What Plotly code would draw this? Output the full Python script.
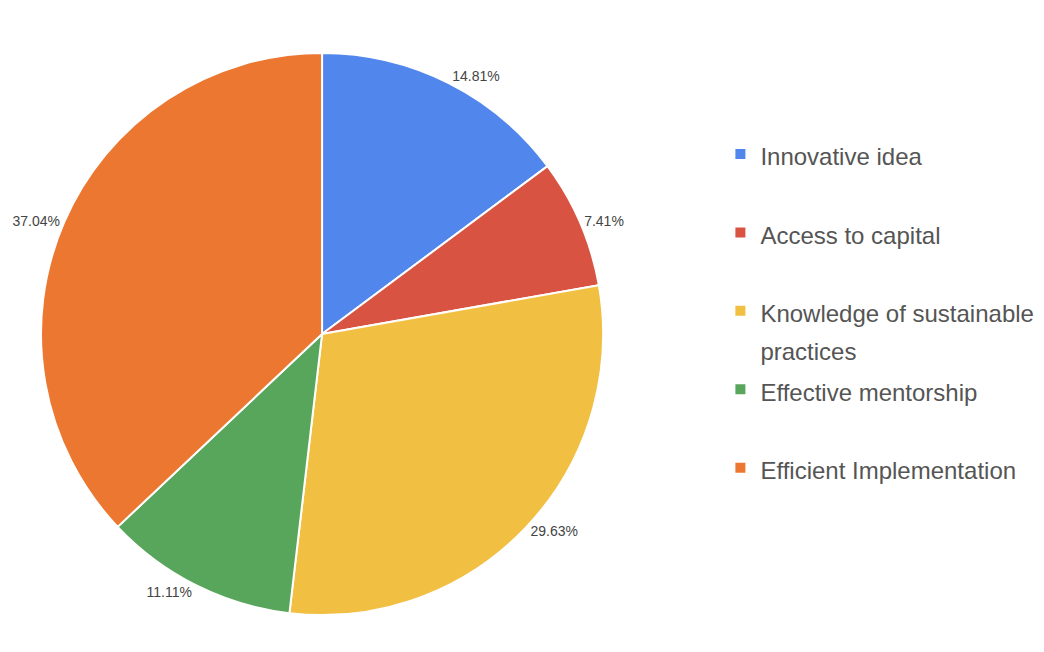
import plotly.graph_objects as go

label_text = ["Innovative idea", "Access to capital", "Knowledge of sustainable<br>practices",
              "Effective mentorship", "Efficient Implementation"]
values = [4, 2, 8, 3, 10]
colors = ["#5186EC", "#D95342", "#F1BF42", "#58A65C", "#EC7731"]

FONT = "Liberation Sans, Arial, sans-serif"

# legend entries: glyphs at 24px inside a 29px line box, every entry two lines tall
labels = []
for t in label_text:
    parts = t.split("<br>")
    if len(parts) == 1:
        parts.append(" ")
    labels.append("<br>".join('<span style="font-size:24px">%s</span>' % p for p in parts))

fig = go.Figure(go.Pie(
    labels=labels,
    values=values,
    sort=False,
    direction="clockwise",
    rotation=0,
    marker=dict(colors=colors, line=dict(color="white", width=2)),
    texttemplate="%{percent:.2%}",
    textposition="outside",
    textfont=dict(family=FONT, size=14, color="#444444"),
    outsidetextfont=dict(family=FONT, size=14, color="#444444"),
    domain=dict(x=[0.0, 0.556], y=[0.0, 1.0]),
    hoverinfo="percent",
))

fig.update_layout(
    width=1044, height=652,
    margin=dict(l=0, r=0, t=0, b=0),
    paper_bgcolor="white",
    plot_bgcolor="white",
    showlegend=True,
    legend=dict(
        x=0.672, y=0.507, xanchor="left", yanchor="middle",
        font=dict(family=FONT, size=29, color="#555555"),
        itemwidth=30,
        valign="top",
        traceorder="normal",
    ),
)

fig.write_html("out.html")
